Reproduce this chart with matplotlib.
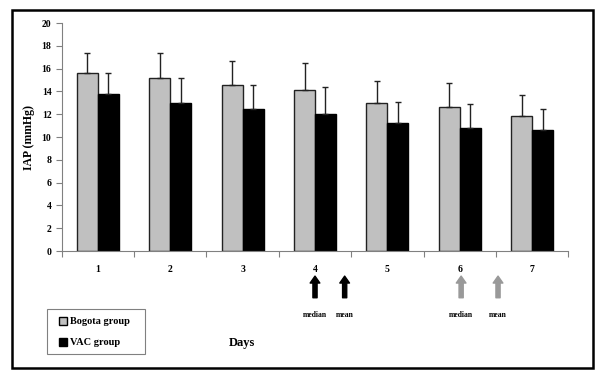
import matplotlib.pyplot as plt
import matplotlib.patches as mpatches
import numpy as np

plt.rcParams['font.family'] = ['Liberation Serif', 'DejaVu Serif']
plt.rcParams['font.weight'] = 'bold'

days = ['1', '2', '3', '4', '5', '6', '7']
bogota = [15.6, 15.2, 14.6, 14.1, 13.0, 12.6, 11.8]
bogota_sd = [1.8, 2.2, 2.1, 2.4, 1.9, 2.1, 1.9]
vac = [13.8, 13.0, 12.5, 12.0, 11.2, 10.8, 10.6]
vac_sd = [1.8, 2.2, 2.1, 2.4, 1.9, 2.1, 1.9]

fig = plt.figure(figsize=(6, 3.83), dpi=100)
ax = fig.add_axes([0.103, 0.3446, 0.844, 0.5953])

x = np.arange(len(days))
w = 0.29
ax.bar(x - w / 2, bogota, w, color='#c0c0c0', edgecolor='#222222', linewidth=1,
       yerr=[np.zeros(len(days)), bogota_sd], error_kw=dict(ecolor='#222222', elinewidth=1, capsize=2.5, capthick=1))
ax.bar(x + w / 2, vac, w, color='black', edgecolor='black', linewidth=1,
       yerr=[np.zeros(len(days)), vac_sd], error_kw=dict(ecolor='#222222', elinewidth=1, capsize=2.5, capthick=1))

ax.set_xlim(-0.5, len(days) - 0.5)
ax.set_ylim(0, 20)
ax.set_yticks(range(0, 21, 2))
ax.set_xticks(np.arange(-0.5, len(days), 1))
ax.set_xticklabels([])
ax.set_xticks(x, minor=True)
ax.set_xticklabels(days, minor=True)
ax.tick_params(axis='x', which='minor', length=0, pad=10, labelsize=7)
ax.tick_params(axis='x', which='major', length=4, color='#808080', direction='out')
ax.tick_params(axis='y', length=4, color='#808080', direction='out', labelsize=7)
for s in ['top', 'right']:
    ax.spines[s].set_visible(False)
for s in ['left', 'bottom']:
    ax.spines[s].set_color('#808080')
ax.set_ylabel('IAP (mmHg)', fontsize=8.5, fontweight='bold', labelpad=5)
ax.text(0.355, -0.405, 'Days', transform=ax.transAxes, fontsize=9, fontweight='bold', ha='center', va='center')

# arrows marking median and mean
arrows = [(3.0, 'median', 'black'), (3.41, 'mean', 'black'),
          (5.02, 'median', '#999999'), (5.53, 'mean', '#999999')]
for xa, lab, col in arrows:
    ax.annotate('', xy=(xa, -0.11), xytext=(xa, -0.205),
                xycoords=('data', 'axes fraction'), textcoords=('data', 'axes fraction'),
                arrowprops=dict(facecolor=col, edgecolor=col, width=3, headwidth=7, headlength=5),
                annotation_clip=False)
    ax.text(xa, -0.28, lab, transform=ax.get_xaxis_transform(), fontsize=5.5,
            ha='center', va='center')

handles = [mpatches.Patch(facecolor='#c0c0c0', edgecolor='black', label='Bogota group'),
           mpatches.Patch(facecolor='black', edgecolor='black', label='VAC group')]
fig.legend(handles=handles, loc='lower left', bbox_to_anchor=(0.098, 0.093),
           fontsize=7.5, frameon=False,
           handlelength=0.8, handleheight=0.8, handletextpad=0.3, labelspacing=1.1,
           borderpad=0, borderaxespad=0)
legend_box = mpatches.Rectangle((47 / 600, 1 - 354 / 383), 98 / 600, 45 / 383,
                                transform=fig.transFigure, fill=False,
                                edgecolor='#808080', linewidth=0.8)
fig.patches.append(legend_box)

frame = mpatches.Rectangle((0.02, 0.039), 0.968, 0.935, transform=fig.transFigure,
                           fill=False, edgecolor='black', linewidth=1.8)
fig.patches.append(frame)

fig.savefig('out.png', dpi=100)
